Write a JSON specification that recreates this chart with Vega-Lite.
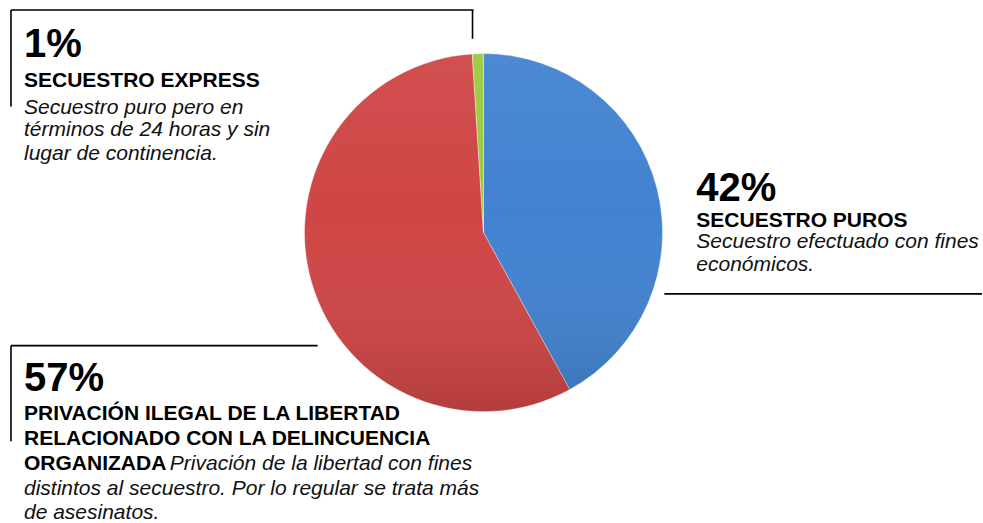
{
  "$schema": "https://vega.github.io/schema/vega-lite/v6.json",
  "width": 983,
  "height": 523,
  "autosize": {"type": "fit", "contains": "padding"},
  "padding": 0,
  "background": "#ffffff",
  "config": {"view": {"stroke": null}},
  "resolve": {"scale": {"theta": "independent", "color": "independent"}},
  "datasets": {
    "pie": [
      {"tipo": "Secuestro puros", "pct": 42, "orden": 1},
      {"tipo": "Privación ilegal de la libertad", "pct": 57, "orden": 2},
      {"tipo": "Secuestro express", "pct": 1, "orden": 3}
    ],
    "sombra": [{"v": 1}],
    "lineas": [
      {"x1": 11, "y1": 10, "x2": 474, "y2": 10},
      {"x1": 11, "y1": 10, "x2": 11, "y2": 107},
      {"x1": 473, "y1": 10, "x2": 473, "y2": 39},
      {"x1": 665, "y1": 295, "x2": 983, "y2": 295},
      {"x1": 11, "y1": 347, "x2": 318, "y2": 347},
      {"x1": 11, "y1": 347, "x2": 11, "y2": 443}
    ],
    "grandes": [
      {"t": "1%", "px": 24, "py": 57},
      {"t": "42%", "px": 697, "py": 202},
      {"t": "57%", "px": 24, "py": 393}
    ],
    "negritas": [
      {"t": "SECUESTRO EXPRESS", "px": 24, "py": 87},
      {"t": "SECUESTRO PUROS", "px": 697, "py": 228},
      {"t": "PRIVACIÓN ILEGAL DE LA LIBERTAD", "px": 24, "py": 422},
      {"t": "RELACIONADO CON LA DELINCUENCIA", "px": 24, "py": 447},
      {"t": "ORGANIZADA", "px": 24, "py": 472}
    ],
    "cursivas": [
      {"t": "Secuestro puro pero en", "px": 24, "py": 114},
      {"t": "términos de 24 horas y sin", "px": 24, "py": 137},
      {"t": "lugar de continencia.", "px": 24, "py": 161},
      {"t": "Secuestro efectuado con fines", "px": 697, "py": 249},
      {"t": "económicos.", "px": 697, "py": 272},
      {"t": "Privación de la libertad con fines", "px": 170, "py": 472},
      {"t": "distintos al secuestro. Por lo regular se trata más", "px": 24, "py": 497},
      {"t": "de asesinatos.", "px": 24, "py": 521}
    ]
  },
  "layer": [
    {
      "data": {"name": "pie"},
      "mark": {"type": "arc", "outerRadius": 179, "stroke": "#ffffff", "strokeWidth": 0.6, "strokeOpacity": 0.6},
      "encoding": {
        "x": {"datum": 484, "type": "quantitative", "scale": {"domain": [0, 983], "nice": false, "zero": false}, "axis": null},
        "y": {"datum": 233.5, "type": "quantitative", "scale": {"domain": [0, 523], "nice": false, "zero": false, "reverse": true}, "axis": null},
        "theta": {"field": "pct", "type": "quantitative", "stack": true},
        "order": {"field": "orden", "type": "quantitative"},
        "color": {
          "field": "tipo",
          "type": "nominal",
          "scale": {
            "domain": ["Secuestro puros", "Privación ilegal de la libertad", "Secuestro express"],
            "range": ["#4282d0", "#cf4545", "#9bc83e"]
          },
          "legend": null
        }
      }
    },
    {
      "data": {"name": "sombra"},
      "mark": {
        "type": "arc",
        "outerRadius": 179,
        "fill": {
          "gradient": "linear",
          "x1": 0, "y1": 0, "x2": 0, "y2": 1,
          "stops": [
            {"offset": 0, "color": "rgba(255,255,255,0.06)"},
            {"offset": 0.45, "color": "rgba(255,255,255,0)"},
            {"offset": 1, "color": "rgba(0,0,0,0.13)"}
          ]
        }
      },
      "encoding": {
        "x": {"datum": 484, "type": "quantitative"},
        "y": {"datum": 233.5, "type": "quantitative"},
        "theta": {"field": "v", "type": "quantitative"}
      }
    },
    {
      "data": {"name": "lineas"},
      "mark": {"type": "rule", "color": "#000000", "strokeWidth": 1.6},
      "encoding": {
        "x": {"field": "x1", "type": "quantitative"},
        "x2": {"field": "x2"},
        "y": {"field": "y1", "type": "quantitative"},
        "y2": {"field": "y2"}
      }
    },
    {
      "data": {"name": "grandes"},
      "mark": {"type": "text", "font": "Liberation Sans", "fontWeight": "bold", "fontSize": 40, "align": "left", "baseline": "alphabetic", "color": "#000000"},
      "encoding": {
        "x": {"field": "px", "type": "quantitative"},
        "y": {"field": "py", "type": "quantitative"},
        "text": {"field": "t"}
      }
    },
    {
      "data": {"name": "negritas"},
      "mark": {"type": "text", "font": "Liberation Sans", "fontWeight": "bold", "fontSize": 21, "align": "left", "baseline": "alphabetic", "color": "#000000"},
      "encoding": {
        "x": {"field": "px", "type": "quantitative"},
        "y": {"field": "py", "type": "quantitative"},
        "text": {"field": "t"}
      }
    },
    {
      "data": {"name": "cursivas"},
      "mark": {"type": "text", "font": "Liberation Sans", "fontStyle": "italic", "fontSize": 21, "align": "left", "baseline": "alphabetic", "color": "#111111"},
      "encoding": {
        "x": {"field": "px", "type": "quantitative"},
        "y": {"field": "py", "type": "quantitative"},
        "text": {"field": "t"}
      }
    }
  ]
}
